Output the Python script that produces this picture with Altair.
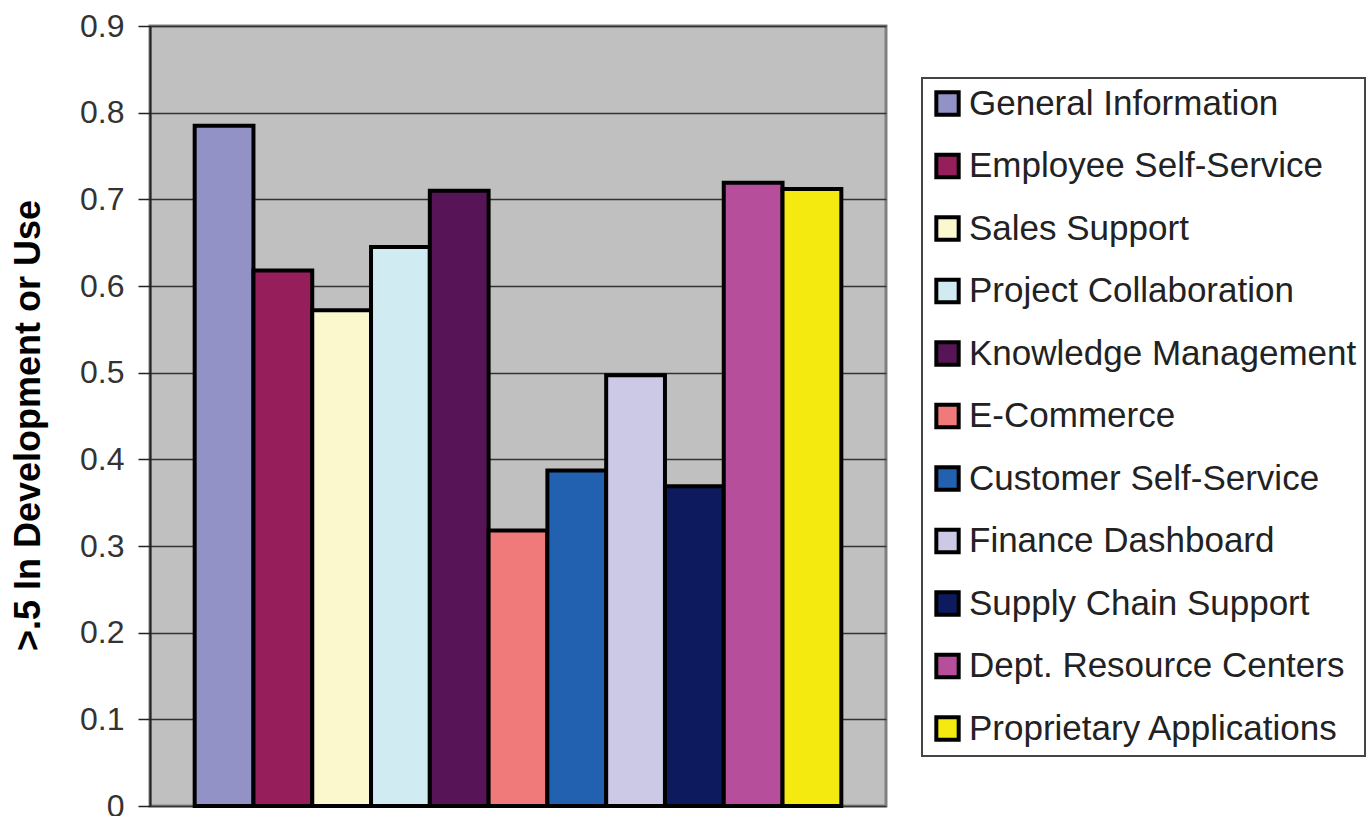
import altair as alt
import pandas as pd

series = [
    "General Information",
    "Employee Self-Service",
    "Sales Support",
    "Project Collaboration",
    "Knowledge Management",
    "E-Commerce",
    "Customer Self-Service",
    "Finance Dashboard",
    "Supply Chain Support",
    "Dept. Resource Centers",
    "Proprietary Applications",
]
values = [0.785, 0.618, 0.572, 0.645, 0.710, 0.318, 0.387, 0.497, 0.369, 0.719, 0.712]
colors = [
    "#9292C6", "#961E5A", "#FBF8CE", "#D0ECF2", "#571456", "#F07A7A",
    "#2161AF", "#CBC9E6", "#0E1A5E", "#B64E9C", "#F4EA10",
]
y_ticks = [0, 0.1, 0.2, 0.3, 0.4, 0.5, 0.6, 0.7, 0.8, 0.9]

df = pd.DataFrame({"series": series, "value": values})

FONT = "Liberation Sans"

chart = (
    alt.Chart(df)
    .mark_bar(stroke="black", strokeWidth=4)
    .encode(
        x=alt.X(
            "series:N",
            sort=series,
            axis=None,
            scale=alt.Scale(paddingInner=0, paddingOuter=0.76),
        ),
        y=alt.Y(
            "value:Q",
            scale=alt.Scale(domain=[0, 0.9], nice=False),
            axis=alt.Axis(
                values=y_ticks,
                format=".1~f",
                title=">.5 In Development or Use",
                titleFont=FONT,
                titleFontSize=36,
                titleFontWeight="bold",
                titleColor="black",
                titlePadding=32,
                titleY=399,
                labelFont=FONT,
                labelFontSize=32,
                labelColor="#333333",
                labelPadding=14,
                tickSize=12,
                tickColor="#222222",
                tickWidth=1.5,
                domainColor="#222222",
                domainWidth=2,
                gridColor="#333333",
                gridWidth=1.5,
            ),
        ),
        color=alt.Color(
            "series:N",
            sort=series,
            scale=alt.Scale(domain=series, range=colors),
            legend=alt.Legend(
                title=None,
                orient="none",
                legendX=772,
                legendY=52,
                symbolType="square",
                symbolSize=500,
                symbolStrokeColor="black",
                symbolStrokeWidth=4,
                labelFont=FONT,
                labelFontSize=35,
                labelColor="#222222",
                labelLimit=600,
                labelOffset=4,
                rowPadding=23.5,
                padding=8,
                strokeColor="#444444",
                fillColor="white",
            ),
        ),
    )
    .properties(
        width=736,
        height=780,
        background="white",
        autosize=alt.AutoSizeParams(type="none"),
        padding={"left": 150, "top": 26, "right": 483, "bottom": 14},
    )
    .configure_view(fill="#C0C0C0", stroke="#808080", strokeWidth=3)
    .configure_legend(strokeWidth=2)
)

chart.save("out.html", embed_options={"renderer": "svg", "actions": False})
